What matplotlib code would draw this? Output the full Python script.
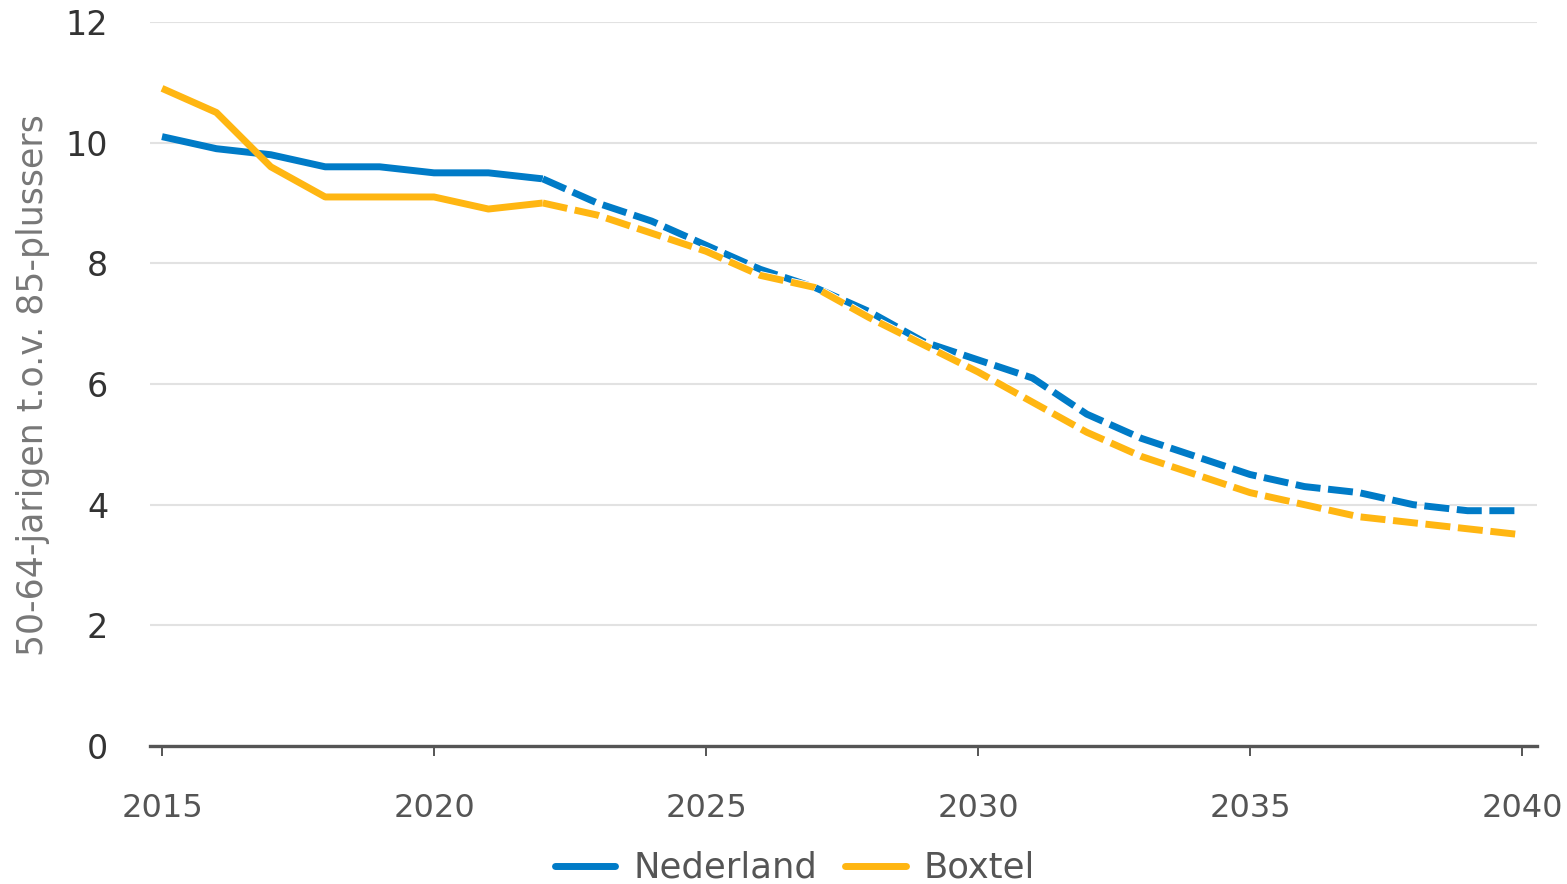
import matplotlib
matplotlib.use("Agg")
import matplotlib.pyplot as plt
import matplotlib.patheffects as pe

years = list(range(2015, 2041))
nederland = [10.1, 9.9, 9.8, 9.6, 9.6, 9.5, 9.5, 9.4, 9.0, 8.7, 8.3, 7.9, 7.6, 7.2,
             6.7, 6.4, 6.1, 5.5, 5.1, 4.8, 4.5, 4.3, 4.2, 4.0, 3.9, 3.9]
boxtel = [10.9, 10.5, 9.6, 9.1, 9.1, 9.1, 8.9, 9.0, 8.8, 8.5, 8.2, 7.8, 7.6, 7.1,
          6.65, 6.2, 5.7, 5.2, 4.8, 4.5, 4.2, 4.0, 3.8, 3.7, 3.6, 3.5]
last_observed = 2022
series_names = ["Nederland", "Boxtel"]
colors = ["#007bc7", "#ffb612"]
yticks = [0, 2, 4, 6, 8, 10, 12]
xticks = [2015, 2020, 2025, 2030, 2035, 2040]
ylabel = "50-64-jarigen t.o.v. 85-plussers"

plt.rcParams['font.family'] = ['DejaVu Sans']
fig = plt.figure(figsize=(15.67, 8.84), dpi=100)
ax = fig.add_axes([150/1567, 1-746/884, (1537-150)/1567, (746-22)/884])

lw = 5.0
handles = []
for name, vals, c in zip(series_names, [nederland, boxtel], colors):
    k = years.index(last_observed)
    h, = ax.plot(years[:k+1], vals[:k+1], color=c, lw=lw, solid_capstyle='butt',
                 solid_joinstyle='round', label=name, zorder=3)
    ax.plot(years[k:], vals[k:], color=c, lw=lw, linestyle=(0, (3.6, 1.1)),
            dash_capstyle='butt', dash_joinstyle='round', zorder=3,
            path_effects=[pe.Stroke(linewidth=lw+1.2, foreground='white'), pe.Normal()])
    handles.append(h)

ax.set_xlim(2015 - 12/54.4, 2040 + 15/54.4)
ax.set_ylim(0, 12)
ax.set_yticks(yticks)
ax.set_xticks(xticks)
ax.grid(axis='y', color='#e2e2e2', lw=1.5)
ax.set_axisbelow(True)
for s in ['top', 'right', 'left']:
    ax.spines[s].set_visible(False)
ax.spines['bottom'].set_color('#555555')
ax.spines['bottom'].set_linewidth(2.4)
ax.spines['bottom'].set_zorder(4)
ax.tick_params(axis='y', length=0, pad=30, labelsize=24, labelcolor='#333333')
ax.tick_params(axis='x', length=7, width=1.4, color='#555555', pad=27,
               labelsize=23, labelcolor='#555555')

fig.text(33/1567, 1-385/884, ylabel, rotation=90, ha='center', va='center',
         fontsize=25, color='#777777')

leg = fig.legend(handles=[plt.Line2D([], [], color=c, lw=lw, solid_capstyle='round') for c in colors],
                 labels=series_names, loc='center', bbox_to_anchor=(795/1567, 16/884),
                 ncol=2, frameon=False, fontsize=25.5, handlelength=1.7, handletextpad=0.5,
                 columnspacing=0.8)
for t in leg.get_texts():
    t.set_color('#555555')

fig.savefig("out.png", dpi=100)
